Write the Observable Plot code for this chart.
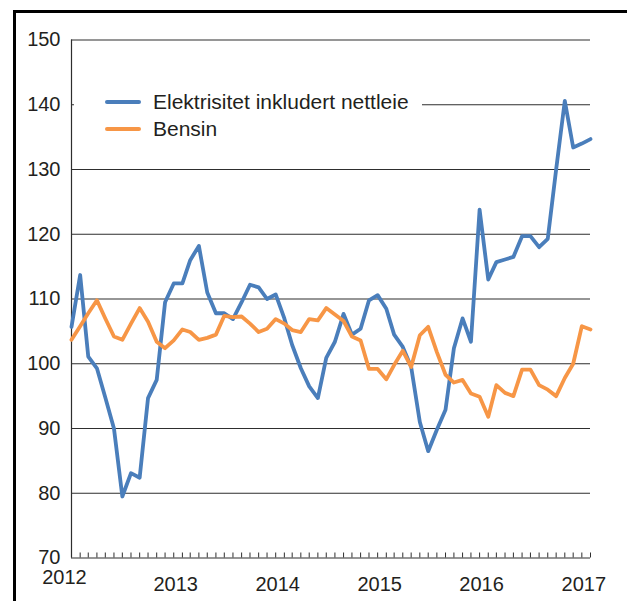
<!DOCTYPE html>
<html>
<head>
<meta charset="utf-8">
<script src="https://cdn.jsdelivr.net/npm/d3@7"></script>
<script src="https://cdn.jsdelivr.net/npm/@observablehq/plot@0.6"></script>
<style>
  html, body { margin: 0; padding: 0; background: #fff; }
  #wrap { position: relative; width: 627px; height: 601px; overflow: hidden; font-family: "Liberation Sans", Arial, sans-serif; }
  #frame { position: absolute; left: 13px; top: 10px; width: 800px; height: 800px; border-left: 3px solid #000; border-top: 3px solid #000; box-sizing: border-box; }
  #chart { position: absolute; left: 0; top: 0; }
  #legend { position: absolute; left: 74px; top: 87px; width: 348px; background: #fff; padding: 1px 0 2px 31px; box-sizing: border-box; }
  .row { display: flex; align-items: center; height: 27px; font-size: 21px; color: #231f20; white-space: nowrap; }
  .sw { width: 36px; height: 4px; border-radius: 2px; margin-right: 12px; }
</style>
</head>
<body>
<div id="wrap">
  <div id="frame"></div>
  <div id="chart"></div>
  <div id="legend"></div>
</div>
<script>
// Monthly observations, January 2012 – February 2017
const startMonth = "2012-01";
const endMonth = "2017-02";
const seriesNames = ["Elektrisitet inkludert nettleie", "Bensin"];
const seriesColors = ["#4a7ebb", "#f79646"];

const elektrisitet = [
  105.7, 113.7, 101.1, 99.3, 94.8, 90.0, 79.5, 83.1, 82.4, 94.7, 97.5, 109.5,
  112.4, 112.4, 116.0, 118.2, 111.0, 107.8, 107.8, 106.9, 109.5, 112.2, 111.8, 110.0,
  110.7, 107.0, 102.9, 99.3, 96.5, 94.7, 100.9, 103.4, 107.7, 104.5, 105.4, 109.8,
  110.6, 108.5, 104.5, 102.6, 99.5, 91.0, 86.5, 89.8, 92.9, 102.4, 107.0, 103.4,
  123.8, 113.0, 115.7, 116.1, 116.5, 119.7, 119.7, 118.0, 119.3, 130.0, 140.6, 133.4,
  134.0, 134.7
];
const bensin = [
  103.7, 105.8, 107.8, 109.8, 107.0, 104.2, 103.7, 106.2, 108.6, 106.5, 103.4, 102.4,
  103.6, 105.3, 104.9, 103.7, 104.0, 104.5, 107.4, 107.2, 107.3, 106.2, 104.9, 105.4,
  106.9, 106.2, 105.2, 104.9, 106.9, 106.7, 108.6, 107.6, 106.6, 104.2, 103.6, 99.2,
  99.2, 97.6, 99.8, 102.0, 99.5, 104.4, 105.7, 101.8, 98.3, 97.1, 97.5, 95.4,
  94.9, 91.8, 96.7, 95.5, 95.0, 99.1, 99.1, 96.7, 96.0, 95.0, 97.8, 100.0,
  105.8, 105.3
];
const yTicks = [70, 80, 90, 100, 110, 120, 130, 140, 150];
const yearLabels = ["2012", "2013", "2014", "2015", "2016", "2017"];

const parseMonth = d3.utcParse("%Y-%m");
const months = d3.utcMonths(parseMonth(startMonth), d3.utcMonth.offset(parseMonth(endMonth), 1));
const rows = [];
months.forEach((m, i) => {
  rows.push({date: m, value: elektrisitet[i], series: seriesNames[0]});
  rows.push({date: m, value: bensin[i], series: seriesNames[1]});
});
const yearDates = yearLabels.map(y => d3.utcParse("%Y")(y));

const chart = Plot.plot({
  width: 627,
  height: 601,
  marginLeft: 71,
  marginRight: 37,
  marginTop: 39.5,
  marginBottom: 43.5,
  style: {fontFamily: "'Liberation Sans', Arial, sans-serif", fontSize: "20px", background: "transparent", color: "#231f20"},
  x: {type: "utc", domain: [months[0], months[months.length - 1]]},
  y: {domain: [70, 150]},
  color: {domain: seriesNames, range: seriesColors},
  marks: [
    Plot.gridY(yTicks.filter(t => t > 70), {stroke: "#2e2e2e", strokeOpacity: 1, strokeWidth: 1.2}),
    Plot.axisY(yTicks, {tickSize: 0, tickPadding: 11, fontSize: 20, fill: "#231f20", label: null}),
    Plot.axisX(months, {tickSize: -5, tickFormat: () => "", stroke: "#2e2e2e", label: null}),
    Plot.ruleY([70], {stroke: "#2e2e2e", strokeWidth: 1.2}),
    Plot.ruleX([months[0]], {stroke: "#2e2e2e", strokeWidth: 1.2}),
    Plot.line(rows, {x: "date", y: "value", z: "series", stroke: "series", strokeWidth: 3.8, strokeLinejoin: "round", strokeLinecap: "round"}),
    Plot.text(yearDates.slice(0, 1), {x: d => d, y: () => 70, text: (d, i) => yearLabels[i], dy: 20, dx: -7, fontSize: 20, fill: "#231f20"}),
    Plot.text(yearDates.slice(1), {x: d => d, y: () => 70, text: (d, i) => yearLabels[i + 1], dy: 27, dx: 2, fontSize: 20, fill: "#231f20"})
  ]
});
document.getElementById("chart").appendChild(chart);

const legend = document.getElementById("legend");
seriesNames.forEach((name, i) => {
  const row = document.createElement("div");
  row.className = "row";
  const sw = document.createElement("div");
  sw.className = "sw";
  sw.style.background = seriesColors[i];
  const t = document.createElement("span");
  t.textContent = name;
  row.appendChild(sw);
  row.appendChild(t);
  legend.appendChild(row);
});
</script>
</body>
</html>
